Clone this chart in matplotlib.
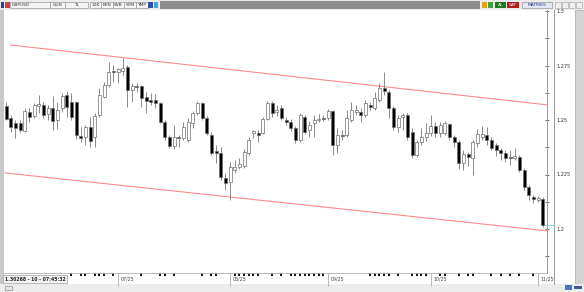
import matplotlib
matplotlib.use('Agg')
import matplotlib.pyplot as plt
from matplotlib.patches import Rectangle

# daily GBPUSD candles
open_ = [1.2564, 1.2509, 1.2486, 1.2486, 1.2450, 1.2537, 1.2518, 1.2564, 1.2569, 1.2528,
         1.2555, 1.2500, 1.2555, 1.2615, 1.2583, 1.2583, 1.2427, 1.2422, 1.2468, 1.2422,
         1.2523, 1.2605, 1.2661, 1.2725, 1.2720, 1.2725, 1.2743, 1.2638, 1.2656, 1.2656,
         1.2605, 1.2592, 1.2592, 1.2578, 1.2491, 1.2422, 1.2381, 1.2422, 1.2417, 1.2408,
         1.2486, 1.2532, 1.2578, 1.2509, 1.2431, 1.2358, 1.2349, 1.2234, 1.2216, 1.2271,
         1.2284, 1.2289, 1.2349, 1.2440, 1.2440, 1.2440, 1.2505, 1.2578, 1.2537, 1.2555,
         1.2500, 1.2491, 1.2463, 1.2408, 1.2514, 1.2454, 1.2486, 1.2500, 1.2509, 1.2509,
         1.2541, 1.2385, 1.2431, 1.2431, 1.2500, 1.2537, 1.2537, 1.2523, 1.2569, 1.2555,
         1.2592, 1.2647, 1.2628, 1.2555, 1.2468, 1.2514, 1.2523, 1.2445, 1.2339, 1.2399,
         1.2422, 1.2440, 1.2472, 1.2440, 1.2440, 1.2482, 1.2422, 1.2399, 1.2303, 1.2344,
         1.2326, 1.2394, 1.2422, 1.2431, 1.2408, 1.2385, 1.2362, 1.2349, 1.2330, 1.2326,
         1.2330, 1.2271, 1.2193, 1.2147, 1.2133, 1.2138]
high = [1.2583, 1.2523, 1.2500, 1.2500, 1.2555, 1.2555, 1.2578, 1.2615, 1.2583, 1.2569,
        1.2610, 1.2583, 1.2624, 1.2633, 1.2624, 1.2587, 1.2468, 1.2477, 1.2514, 1.2532,
        1.2647, 1.2674, 1.2766, 1.2752, 1.2739, 1.2784, 1.2752, 1.2670, 1.2670, 1.2661,
        1.2628, 1.2624, 1.2619, 1.2583, 1.2500, 1.2431, 1.2477, 1.2431, 1.2491, 1.2509,
        1.2541, 1.2587, 1.2583, 1.2518, 1.2445, 1.2385, 1.2376, 1.2257, 1.2307, 1.2317,
        1.2326, 1.2367, 1.2422, 1.2454, 1.2454, 1.2514, 1.2587, 1.2587, 1.2569, 1.2569,
        1.2514, 1.2505, 1.2472, 1.2532, 1.2523, 1.2495, 1.2523, 1.2528, 1.2523, 1.2550,
        1.2546, 1.2463, 1.2454, 1.2546, 1.2583, 1.2569, 1.2555, 1.2592, 1.2583, 1.2628,
        1.2670, 1.2720, 1.2638, 1.2564, 1.2523, 1.2532, 1.2532, 1.2463, 1.2408, 1.2463,
        1.2486, 1.2523, 1.2491, 1.2491, 1.2495, 1.2486, 1.2431, 1.2408, 1.2362, 1.2353,
        1.2408, 1.2459, 1.2472, 1.2468, 1.2422, 1.2394, 1.2372, 1.2362, 1.2362, 1.2372,
        1.2339, 1.2280, 1.2202, 1.2156, 1.2151, 1.2147]
low = [1.2500, 1.2445, 1.2417, 1.2445, 1.2445, 1.2491, 1.2509, 1.2532, 1.2509, 1.2500,
       1.2454, 1.2459, 1.2537, 1.2514, 1.2500, 1.2413, 1.2399, 1.2385, 1.2376, 1.2376,
       1.2514, 1.2601, 1.2651, 1.2674, 1.2670, 1.2706, 1.2560, 1.2583, 1.2628, 1.2560,
       1.2532, 1.2569, 1.2555, 1.2486, 1.2408, 1.2372, 1.2367, 1.2376, 1.2408, 1.2399,
       1.2463, 1.2523, 1.2500, 1.2431, 1.2339, 1.2303, 1.2225, 1.2179, 1.2133, 1.2257,
       1.2275, 1.2280, 1.2339, 1.2417, 1.2399, 1.2436, 1.2500, 1.2514, 1.2518, 1.2500,
       1.2477, 1.2450, 1.2394, 1.2399, 1.2436, 1.2422, 1.2422, 1.2491, 1.2495, 1.2500,
       1.2339, 1.2349, 1.2408, 1.2422, 1.2491, 1.2523, 1.2491, 1.2514, 1.2546, 1.2546,
       1.2583, 1.2615, 1.2509, 1.2454, 1.2445, 1.2454, 1.2408, 1.2326, 1.2330, 1.2385,
       1.2404, 1.2427, 1.2422, 1.2422, 1.2431, 1.2408, 1.2376, 1.2275, 1.2271, 1.2289,
       1.2248, 1.2376, 1.2408, 1.2385, 1.2362, 1.2335, 1.2317, 1.2307, 1.2294, 1.2317,
       1.2261, 1.2179, 1.2133, 1.2119, 1.2124, 1.2009]
close = [1.2505, 1.2468, 1.2463, 1.2454, 1.2541, 1.2514, 1.2569, 1.2573, 1.2523, 1.2555,
         1.2495, 1.2546, 1.2610, 1.2560, 1.2514, 1.2431, 1.2417, 1.2468, 1.2404, 1.2518,
         1.2615, 1.2661, 1.2720, 1.2720, 1.2734, 1.2739, 1.2638, 1.2656, 1.2651, 1.2601,
         1.2587, 1.2583, 1.2578, 1.2491, 1.2422, 1.2381, 1.2422, 1.2417, 1.2468, 1.2491,
         1.2532, 1.2578, 1.2509, 1.2440, 1.2349, 1.2349, 1.2239, 1.2211, 1.2284, 1.2284,
         1.2298, 1.2353, 1.2408, 1.2450, 1.2431, 1.2505, 1.2578, 1.2532, 1.2546, 1.2509,
         1.2491, 1.2463, 1.2408, 1.2523, 1.2445, 1.2477, 1.2500, 1.2505, 1.2505, 1.2541,
         1.2385, 1.2431, 1.2427, 1.2509, 1.2546, 1.2546, 1.2523, 1.2578, 1.2560, 1.2601,
         1.2647, 1.2633, 1.2555, 1.2468, 1.2509, 1.2523, 1.2422, 1.2339, 1.2399, 1.2422,
         1.2440, 1.2472, 1.2440, 1.2477, 1.2486, 1.2422, 1.2399, 1.2303, 1.2344, 1.2330,
         1.2399, 1.2436, 1.2436, 1.2408, 1.2372, 1.2362, 1.2349, 1.2326, 1.2326, 1.2335,
         1.2271, 1.2193, 1.2156, 1.2138, 1.2142, 1.2018]

month_idx = [24, 48, 69, 91, 114]
month_lbl = ['07/25', '08/25', '09/25', '10/25', '11/25']
event_idx = [14, 16, 17, 19, 20, 21, 23, 24, 29, 33, 34, 36, 42, 44, 45, 49, 50, 51, 52, 53,
             54, 57, 59, 61, 62, 63, 64, 65, 66, 67, 68, 69, 78, 79, 80, 81, 82, 84, 87, 88,
             89, 90, 93, 94, 97, 99, 100, 104, 106, 108, 110, 113]
y_major = [1.2, 1.225, 1.25, 1.275, 1.3]
y_major_lbl = ['1.2', '1.225', '1.25', '1.275', '1.3']
y_minor = [1.1875, 1.2125, 1.2375, 1.2625, 1.2875]

# channel lines (index, price)
upper_x = [0.9, 116.1]
upper_y = [1.2844, 1.2569]
lower_x = [-0.2, 116.1]
lower_y = [1.2257, 1.1991]

W, H = 584, 292
fig = plt.figure(figsize=(W / 100, H / 100), dpi=100)

# window chrome drawn in pixel coords
bg = fig.add_axes([0, 0, 1, 1], zorder=0)
bg.set_xlim(0, W)
bg.set_ylim(H, 0)
bg.axis('off')

def box(x, y, w, h, fc, ec='none', lw=0.6):
    bg.add_patch(Rectangle((x, y), w, h, facecolor=fc, edgecolor=ec, lw=lw))

box(0, 0, W, 10, '#ececec')
box(160, 1, 320, 8, '#8c8c8c')
box(1, 2, 3, 6, '#2a3f8f')
box(5, 2, 5, 6, '#d04040')
for x0, x1, t in [(10, 50, 'GBPUSD'), (50, 65, 'GUN'), (65, 88, 'TL'), (90, 101, '12K'),
                  (101, 113, 'EKN'), (113, 124, 'SVB'), (124, 136, 'SYM'), (136, 148, 'TMP')]:
    box(x0, 2, x1 - x0, 6, '#f4f4f4', '#9a9a9a', 0.5)
    bg.text((x0 + x1) / 2 if t != 'GBPUSD' else x0 + 2, 5.2, t, fontsize=3.2,
            ha='center' if t != 'GBPUSD' else 'left', va='center', color='#333333')
box(148, 2, 5, 6, '#3050a0')
box(154, 2, 4, 6, '#40a0e0')
box(482, 2, 5, 6, '#e0a020')
box(488, 2, 5, 6, '#40a040')
box(495, 2, 11, 6, '#1d7a1d')
bg.text(500.5, 5.2, 'AL', fontsize=3.2, ha='center', va='center', color='white')
box(507, 2, 12, 6, '#b01c1c')
bg.text(513, 5.2, 'SAT', fontsize=3.2, ha='center', va='center', color='white')
box(522, 2, 30, 6, '#e4e8f0', '#9a9a9a', 0.5)
bg.text(537, 5.2, 'MATRIKS', fontsize=3.2, ha='center', va='center', color='#23408a')
for x0 in [555, 562, 569, 576]:
    box(x0, 2, 6, 6, '#f0f0f0', '#b0b0b0', 0.5)

box(0, 10, 3.5, 274, '#c8c8c8')
box(575, 10, 9, 274, '#d4d4d4', '#a8a8a8', 0.5)
box(0, 284, W, 8, '#ececec')
box(3, 275, 64, 8, '#f4f4f4', '#a0a0a0', 0.5)
bg.text(5, 279.2, '1.30268 - 10 - 07:45:32', fontsize=3.3, ha='left', va='center',
        color='#222222', fontweight='bold')
box(5, 285.5, 7, 4, '#e8e8e8', '#909090', 0.5)
box(565, 285, 7, 5, '#4a78c0')
box(574, 286, 8, 3, '#3a5aa0')
bg.plot([553.5, 553.5], [10, 284], color='#9a9a9a', lw=0.7)

# chart area
top_px, bot_px, left_px, right_px = 10, 273, 4, 547
ax = fig.add_axes([left_px / W, 1 - bot_px / H, (right_px - left_px) / W, (bot_px - top_px) / H],
                  zorder=1)
ax.set_facecolor('white')
ax.set_xlim(-0.45, 115.9)
ax.set_ylim(1.25 - (bot_px - 120) / 2180, 1.25 + (120 - top_px) / 2180)

idx = list(range(len(close)))
ax.vlines(idx, low, high, color='#8a8a8a', lw=0.7, zorder=2)
body_bot = [min(o, c) for o, c in zip(open_, close)]
body_h = [max(abs(c - o), 0.00035) for o, c in zip(open_, close)]
cols = ['black' if c < o else 'white' for o, c in zip(open_, close)]
ax.bar(idx, body_h, bottom=body_bot, width=0.62, color=cols, edgecolor='#6e6e6e',
       linewidth=0.5, zorder=3)

ax.plot(upper_x, upper_y, color='#ff8a8a', lw=0.8, zorder=1)
ax.plot(lower_x, lower_y, color='#ff8a8a', lw=0.8, zorder=1)

# last price marker
ax.plot([len(close) - 0.6, 117.5], [close[-1], close[-1]], color='#7fd8e0', lw=0.7,
        clip_on=False, zorder=4)

for s in ['top', 'left', 'bottom']:
    ax.spines[s].set_visible(False)
ax.spines['right'].set_color('#9a9a9a')
ax.spines['right'].set_linewidth(0.7)

ax.yaxis.tick_right()
ax.set_yticks(y_major)
ax.set_yticklabels(y_major_lbl)
ax.set_yticks(y_minor, minor=True)
ax.tick_params(axis='y', which='both', direction='inout', length=3, width=0.6,
               color='#555555', labelsize=3.6, labelcolor='#333333', pad=5)

ax.set_xticks(month_idx)
ax.set_xticklabels([])
ax.set_xticks(event_idx, minor=True)
ax.tick_params(axis='x', which='major', length=9, width=0.5, color='#a0a0a0')
ax.tick_params(axis='x', which='minor', length=2, width=1.4, color='#111111')
xt = ax.get_xaxis_transform()
for i, t in zip(month_idx, month_lbl):
    ax.text(i + 0.5, -0.024, t, transform=xt, fontsize=3.4, ha='left', va='center',
            color='#444444')
ax.plot([-0.45, 115.9], [0, 0], transform=xt, color='#b0b0b0', lw=0.6, clip_on=False)

fig.savefig('out.png', dpi=100)
